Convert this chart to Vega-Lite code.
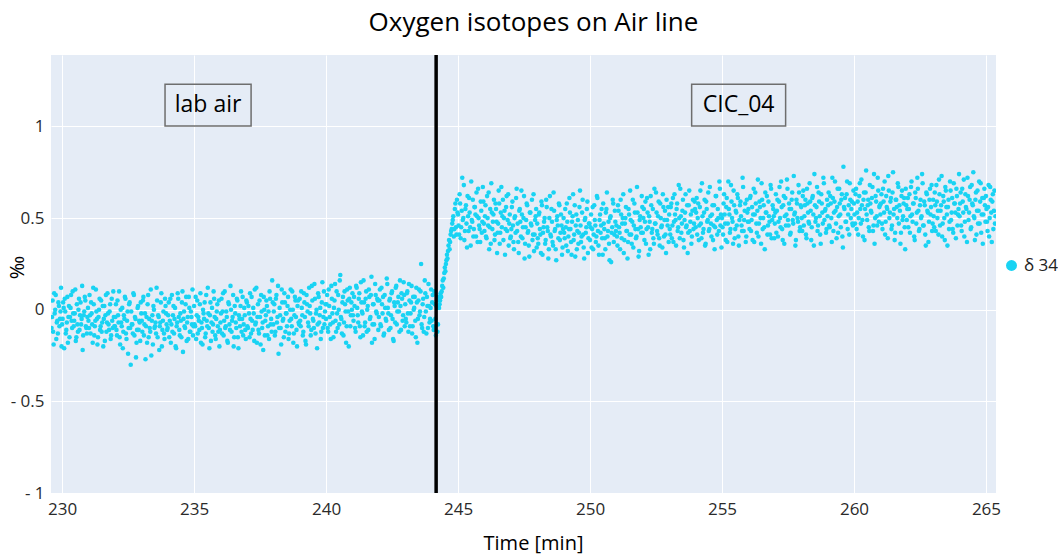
{
"$schema":"https://vega.github.io/schema/vega-lite/v6.json",
"width":945,"height":438,
"autosize":{"type":"none"},
"padding":{"left":51,"top":55,"right":62,"bottom":66},
"background":"white",
"title":{"text":"Oxygen isotopes on Air line","fontSize":26,"font":"Open Sans","fontWeight":"normal","color":"#000","offset":17,"anchor":"middle","frame":"group","dx":10},
"config":{"view":{"fill":"#E5ECF6","stroke":null},"font":"Open Sans"},
"layer":[
{"data":{"values":[
{"t":229.60,"v":-0.10},{"t":229.64,"v":0.05},{"t":229.68,"v":-0.19},{"t":229.72,"v":-0.02},{"t":229.76,"v":0.08},{"t":229.80,"v":-0.07},{"t":229.84,"v":-0.13},{"t":229.88,"v":0.02},{"t":229.92,"v":-0.05},{"t":229.96,"v":0.12},
{"t":230.00,"v":-0.08},{"t":230.04,"v":0.04},{"t":230.08,"v":-0.21},{"t":230.12,"v":-0.01},{"t":230.16,"v":-0.11},{"t":230.20,"v":0.07},{"t":230.24,"v":-0.04},{"t":230.28,"v":-0.15},{"t":230.32,"v":0.01},{"t":230.36,"v":-0.06},{"t":230.40,"v":0.10},{"t":230.44,"v":-0.09},{"t":230.48,"v":-0.02},{"t":230.52,"v":-0.17},{"t":230.56,"v":0.03},{"t":230.60,"v":-0.12},{"t":230.64,"v":0.06},{"t":230.68,"v":-0.03},{"t":230.72,"v":-0.08},{"t":230.76,"v":0.13},{"t":230.80,"v":-0.14},{"t":230.84,"v":-0.01},{"t":230.88,"v":0.05},{"t":230.92,"v":-0.10},{"t":230.96,"v":-0.04},
{"t":231.00,"v":-0.06},{"t":231.04,"v":0.08},{"t":231.08,"v":-0.13},{"t":231.12,"v":-0.02},{"t":231.16,"v":-0.18},{"t":231.20,"v":0.03},{"t":231.24,"v":-0.09},{"t":231.28,"v":0.11},{"t":231.32,"v":-0.05},{"t":231.36,"v":-0.15},{"t":231.40,"v":0.00},{"t":231.44,"v":-0.11},{"t":231.48,"v":0.05},{"t":231.52,"v":-0.07},{"t":231.56,"v":-0.20},{"t":231.60,"v":0.02},{"t":231.64,"v":-0.03},{"t":231.68,"v":-0.12},{"t":231.72,"v":0.09},{"t":231.76,"v":-0.08},{"t":231.80,"v":-0.01},{"t":231.84,"v":-0.16},{"t":231.88,"v":0.06},{"t":231.92,"v":-0.10},{"t":231.96,"v":-0.04},
{"t":232.00,"v":-0.09},{"t":232.04,"v":0.03},{"t":232.08,"v":-0.14},{"t":232.12,"v":-0.03},{"t":232.16,"v":0.10},{"t":232.20,"v":-0.19},{"t":232.24,"v":-0.07},{"t":232.28,"v":0.01},{"t":232.32,"v":-0.12},{"t":232.36,"v":-0.05},{"t":232.40,"v":0.06},{"t":232.44,"v":-0.16},{"t":232.48,"v":-0.01},{"t":232.52,"v":-0.10},{"t":232.56,"v":0.04},{"t":232.60,"v":-0.30},{"t":232.64,"v":-0.08},{"t":232.68,"v":-0.13},{"t":232.72,"v":0.08},{"t":232.76,"v":-0.04},{"t":232.80,"v":-0.26},{"t":232.84,"v":-0.11},{"t":232.88,"v":0.02},{"t":232.92,"v":-0.06},{"t":232.96,"v":-0.17},
{"t":233.00,"v":-0.02},{"t":233.04,"v":-0.12},{"t":233.08,"v":0.07},{"t":233.12,"v":-0.08},{"t":233.16,"v":-0.27},{"t":233.20,"v":-0.04},{"t":233.24,"v":0.03},{"t":233.28,"v":-0.15},{"t":233.32,"v":-0.10},{"t":233.36,"v":0.11},{"t":233.40,"v":-0.06},{"t":233.44,"v":-0.19},{"t":233.48,"v":0.00},{"t":233.52,"v":-0.09},{"t":233.56,"v":-0.13},{"t":233.60,"v":0.05},{"t":233.64,"v":-0.03},{"t":233.68,"v":-0.22},{"t":233.72,"v":-0.07},{"t":233.76,"v":0.09},{"t":233.80,"v":-0.11},{"t":233.84,"v":-0.01},{"t":233.88,"v":-0.16},{"t":233.92,"v":0.02},{"t":233.96,"v":-0.08},
{"t":234.00,"v":-0.10},{"t":234.04,"v":0.04},{"t":234.08,"v":-0.06},{"t":234.12,"v":-0.18},{"t":234.16,"v":0.08},{"t":234.20,"v":-0.03},{"t":234.24,"v":-0.13},{"t":234.28,"v":0.01},{"t":234.32,"v":-0.21},{"t":234.36,"v":-0.07},{"t":234.40,"v":0.06},{"t":234.44,"v":-0.11},{"t":234.48,"v":-0.02},{"t":234.52,"v":-0.15},{"t":234.56,"v":0.10},{"t":234.60,"v":-0.05},{"t":234.64,"v":-0.09},{"t":234.68,"v":0.03},{"t":234.72,"v":-0.17},{"t":234.76,"v":-0.04},{"t":234.80,"v":0.07},{"t":234.84,"v":-0.12},{"t":234.88,"v":-0.01},{"t":234.92,"v":-0.08},{"t":234.96,"v":-0.14},
{"t":235.00,"v":0.02},{"t":235.04,"v":-0.09},{"t":235.08,"v":-0.16},{"t":235.12,"v":0.05},{"t":235.16,"v":-0.04},{"t":235.20,"v":-0.11},{"t":235.24,"v":0.09},{"t":235.28,"v":-0.07},{"t":235.32,"v":-0.19},{"t":235.36,"v":-0.02},{"t":235.40,"v":0.04},{"t":235.44,"v":-0.13},{"t":235.48,"v":-0.06},{"t":235.52,"v":0.12},{"t":235.56,"v":-0.10},{"t":235.60,"v":-0.03},{"t":235.64,"v":-0.17},{"t":235.68,"v":0.01},{"t":235.72,"v":-0.08},{"t":235.76,"v":0.06},{"t":235.80,"v":-0.14},{"t":235.84,"v":-0.05},{"t":235.88,"v":0.03},{"t":235.92,"v":-0.12},{"t":235.96,"v":-0.20},
{"t":236.00,"v":-0.07},{"t":236.04,"v":0.06},{"t":236.08,"v":-0.01},{"t":236.12,"v":-0.14},{"t":236.16,"v":0.10},{"t":236.20,"v":-0.09},{"t":236.24,"v":-0.04},{"t":236.28,"v":-0.18},{"t":236.32,"v":0.03},{"t":236.36,"v":-0.11},{"t":236.40,"v":0.00},{"t":236.44,"v":-0.06},{"t":236.48,"v":0.08},{"t":236.52,"v":-0.15},{"t":236.56,"v":-0.02},{"t":236.60,"v":-0.10},{"t":236.64,"v":0.05},{"t":236.68,"v":-0.21},{"t":236.72,"v":-0.05},{"t":236.76,"v":0.02},{"t":236.80,"v":-0.12},{"t":236.84,"v":0.07},{"t":236.88,"v":-0.08},{"t":236.92,"v":-0.03},{"t":236.96,"v":-0.16},
{"t":237.00,"v":0.04},{"t":237.04,"v":-0.10},{"t":237.08,"v":-0.02},{"t":237.12,"v":0.09},{"t":237.16,"v":-0.13},{"t":237.20,"v":-0.06},{"t":237.24,"v":0.01},{"t":237.28,"v":-0.17},{"t":237.32,"v":-0.08},{"t":237.36,"v":0.12},{"t":237.40,"v":-0.04},{"t":237.44,"v":-0.11},{"t":237.48,"v":0.05},{"t":237.52,"v":-0.19},{"t":237.56,"v":-0.01},{"t":237.60,"v":-0.07},{"t":237.64,"v":0.07},{"t":237.68,"v":-0.14},{"t":237.72,"v":-0.03},{"t":237.76,"v":0.02},{"t":237.80,"v":-0.09},{"t":237.84,"v":-0.16},{"t":237.88,"v":0.06},{"t":237.92,"v":-0.05},{"t":237.96,"v":0.16},
{"t":238.00,"v":-0.08},{"t":238.04,"v":0.03},{"t":238.08,"v":-0.12},{"t":238.12,"v":0.08},{"t":238.16,"v":-0.04},{"t":238.20,"v":-0.24},{"t":238.24,"v":0.01},{"t":238.28,"v":-0.10},{"t":238.32,"v":0.11},{"t":238.36,"v":-0.06},{"t":238.40,"v":-0.15},{"t":238.44,"v":0.04},{"t":238.48,"v":-0.02},{"t":238.52,"v":-0.09},{"t":238.56,"v":0.07},{"t":238.60,"v":-0.13},{"t":238.64,"v":0.00},{"t":238.68,"v":-0.05},{"t":238.72,"v":0.10},{"t":238.76,"v":-0.18},{"t":238.80,"v":-0.03},{"t":238.84,"v":0.05},{"t":238.88,"v":-0.11},{"t":238.92,"v":0.02},{"t":238.96,"v":-0.07},
{"t":239.00,"v":0.06},{"t":239.04,"v":-0.09},{"t":239.08,"v":0.01},{"t":239.12,"v":-0.14},{"t":239.16,"v":0.09},{"t":239.20,"v":-0.04},{"t":239.24,"v":-0.19},{"t":239.28,"v":0.03},{"t":239.32,"v":-0.07},{"t":239.36,"v":0.12},{"t":239.40,"v":-0.02},{"t":239.44,"v":-0.11},{"t":239.48,"v":0.05},{"t":239.52,"v":-0.06},{"t":239.56,"v":0.14},{"t":239.60,"v":-0.13},{"t":239.64,"v":0.00},{"t":239.68,"v":-0.08},{"t":239.72,"v":0.07},{"t":239.76,"v":-0.03},{"t":239.80,"v":-0.16},{"t":239.84,"v":0.04},{"t":239.88,"v":-0.10},{"t":239.92,"v":0.10},{"t":239.96,"v":-0.01},
{"t":240.00,"v":-0.05},{"t":240.04,"v":0.08},{"t":240.08,"v":-0.12},{"t":240.12,"v":0.02},{"t":240.16,"v":-0.08},{"t":240.20,"v":0.13},{"t":240.24,"v":-0.02},{"t":240.28,"v":-0.15},{"t":240.32,"v":0.05},{"t":240.36,"v":-0.06},{"t":240.40,"v":0.10},{"t":240.44,"v":-0.10},{"t":240.48,"v":0.00},{"t":240.52,"v":0.16},{"t":240.56,"v":-0.04},{"t":240.60,"v":-0.13},{"t":240.64,"v":0.07},{"t":240.68,"v":-0.07},{"t":240.72,"v":0.03},{"t":240.76,"v":-0.18},{"t":240.80,"v":0.11},{"t":240.84,"v":-0.01},{"t":240.88,"v":0.06},{"t":240.92,"v":-0.09},{"t":240.96,"v":0.04},
{"t":241.00,"v":0.09},{"t":241.04,"v":-0.06},{"t":241.08,"v":0.02},{"t":241.12,"v":-0.12},{"t":241.16,"v":0.12},{"t":241.20,"v":-0.03},{"t":241.24,"v":0.06},{"t":241.28,"v":-0.09},{"t":241.32,"v":0.15},{"t":241.36,"v":-0.01},{"t":241.40,"v":-0.14},{"t":241.44,"v":0.04},{"t":241.48,"v":-0.07},{"t":241.52,"v":0.10},{"t":241.56,"v":0.00},{"t":241.60,"v":-0.11},{"t":241.64,"v":0.07},{"t":241.68,"v":-0.04},{"t":241.72,"v":0.18},{"t":241.76,"v":-0.08},{"t":241.80,"v":0.03},{"t":241.84,"v":-0.16},{"t":241.88,"v":0.08},{"t":241.92,"v":-0.02},{"t":241.96,"v":0.05},
{"t":242.00,"v":-0.04},{"t":242.04,"v":0.11},{"t":242.08,"v":-0.09},{"t":242.12,"v":0.03},{"t":242.16,"v":0.07},{"t":242.20,"v":-0.13},{"t":242.24,"v":0.01},{"t":242.28,"v":-0.06},{"t":242.32,"v":0.14},{"t":242.36,"v":-0.02},{"t":242.40,"v":0.05},{"t":242.44,"v":-0.10},{"t":242.48,"v":0.09},{"t":242.52,"v":-0.05},{"t":242.56,"v":-0.17},{"t":242.60,"v":0.02},{"t":242.64,"v":0.12},{"t":242.68,"v":-0.08},{"t":242.72,"v":0.04},{"t":242.76,"v":-0.01},{"t":242.80,"v":0.16},{"t":242.84,"v":-0.11},{"t":242.88,"v":0.06},{"t":242.92,"v":-0.03},{"t":242.96,"v":0.08},
{"t":243.00,"v":0.03},{"t":243.04,"v":-0.07},{"t":243.08,"v":0.10},{"t":243.12,"v":-0.12},{"t":243.16,"v":0.05},{"t":243.20,"v":-0.02},{"t":243.24,"v":0.13},{"t":243.28,"v":-0.09},{"t":243.32,"v":0.00},{"t":243.36,"v":0.07},{"t":243.40,"v":-0.15},{"t":243.44,"v":0.04},{"t":243.48,"v":-0.05},{"t":243.52,"v":0.11},{"t":243.56,"v":-0.01},{"t":243.60,"v":0.25},{"t":243.64,"v":-0.10},{"t":243.68,"v":0.06},{"t":243.72,"v":-0.04},{"t":243.76,"v":0.09},{"t":243.80,"v":-0.13},{"t":243.84,"v":0.02},{"t":243.88,"v":0.14},{"t":243.92,"v":-0.07},{"t":243.96,"v":0.01},
{"t":244.00,"v":-0.06},{"t":244.04,"v":0.08},{"t":244.08,"v":-0.11},{"t":244.12,"v":0.03},{"t":244.16,"v":-0.14},{"t":244.20,"v":0.05},{"t":244.24,"v":-0.08},{"t":244.28,"v":0.01},{"t":244.30,"v":0.03},{"t":244.32,"v":0.05},{"t":244.34,"v":0.09},{"t":244.36,"v":0.07},{"t":244.38,"v":0.10},{"t":244.40,"v":0.13},{"t":244.42,"v":0.16},{"t":244.44,"v":0.12},{"t":244.46,"v":0.17},{"t":244.48,"v":0.20},{"t":244.50,"v":0.23},{"t":244.52,"v":0.21},{"t":244.54,"v":0.25},{"t":244.56,"v":0.27},{"t":244.58,"v":0.30},{"t":244.60,"v":0.28},{"t":244.62,"v":0.32},{"t":244.64,"v":0.35},{"t":244.66,"v":0.38},{"t":244.68,"v":0.33},{"t":244.70,"v":0.37},{"t":244.72,"v":0.41},{"t":244.74,"v":0.43},{"t":244.76,"v":0.44},{"t":244.80,"v":0.49},{"t":244.84,"v":0.40},{"t":244.88,"v":0.55},{"t":244.92,"v":0.45},{"t":244.96,"v":0.60},
{"t":245.00,"v":0.52},{"t":245.04,"v":0.41},{"t":245.08,"v":0.58},{"t":245.12,"v":0.45},{"t":245.16,"v":0.72},{"t":245.20,"v":0.50},{"t":245.24,"v":0.38},{"t":245.28,"v":0.55},{"t":245.32,"v":0.47},{"t":245.36,"v":0.62},{"t":245.40,"v":0.43},{"t":245.44,"v":0.53},{"t":245.48,"v":0.35},{"t":245.52,"v":0.49},{"t":245.56,"v":0.60},{"t":245.60,"v":0.44},{"t":245.64,"v":0.56},{"t":245.68,"v":0.40},{"t":245.72,"v":0.51},{"t":245.76,"v":0.66},{"t":245.80,"v":0.46},{"t":245.84,"v":0.37},{"t":245.88,"v":0.54},{"t":245.92,"v":0.48},{"t":245.96,"v":0.59},
{"t":246.00,"v":0.43},{"t":246.04,"v":0.57},{"t":246.08,"v":0.39},{"t":246.12,"v":0.50},{"t":246.16,"v":0.64},{"t":246.20,"v":0.45},{"t":246.24,"v":0.36},{"t":246.28,"v":0.53},{"t":246.32,"v":0.48},{"t":246.36,"v":0.60},{"t":246.40,"v":0.41},{"t":246.44,"v":0.55},{"t":246.48,"v":0.31},{"t":246.52,"v":0.47},{"t":246.56,"v":0.58},{"t":246.60,"v":0.42},{"t":246.64,"v":0.67},{"t":246.68,"v":0.51},{"t":246.72,"v":0.38},{"t":246.76,"v":0.54},{"t":246.80,"v":0.44},{"t":246.84,"v":0.62},{"t":246.88,"v":0.49},{"t":246.92,"v":0.35},{"t":246.96,"v":0.52},
{"t":247.00,"v":0.40},{"t":247.04,"v":0.56},{"t":247.08,"v":0.46},{"t":247.12,"v":0.33},{"t":247.16,"v":0.51},{"t":247.20,"v":0.61},{"t":247.24,"v":0.43},{"t":247.28,"v":0.37},{"t":247.32,"v":0.54},{"t":247.36,"v":0.48},{"t":247.40,"v":0.65},{"t":247.44,"v":0.39},{"t":247.48,"v":0.50},{"t":247.52,"v":0.28},{"t":247.56,"v":0.45},{"t":247.60,"v":0.58},{"t":247.64,"v":0.42},{"t":247.68,"v":0.35},{"t":247.72,"v":0.53},{"t":247.76,"v":0.47},{"t":247.80,"v":0.60},{"t":247.84,"v":0.41},{"t":247.88,"v":0.32},{"t":247.92,"v":0.49},{"t":247.96,"v":0.55},
{"t":248.00,"v":0.47},{"t":248.04,"v":0.36},{"t":248.08,"v":0.53},{"t":248.12,"v":0.41},{"t":248.16,"v":0.59},{"t":248.20,"v":0.30},{"t":248.24,"v":0.45},{"t":248.28,"v":0.50},{"t":248.32,"v":0.38},{"t":248.36,"v":0.56},{"t":248.40,"v":0.43},{"t":248.44,"v":0.33},{"t":248.48,"v":0.62},{"t":248.52,"v":0.40},{"t":248.56,"v":0.48},{"t":248.60,"v":0.35},{"t":248.64,"v":0.54},{"t":248.68,"v":0.44},{"t":248.72,"v":0.27},{"t":248.76,"v":0.51},{"t":248.80,"v":0.39},{"t":248.84,"v":0.57},{"t":248.88,"v":0.42},{"t":248.92,"v":0.46},{"t":248.96,"v":0.34},
{"t":249.00,"v":0.50},{"t":249.04,"v":0.39},{"t":249.08,"v":0.45},{"t":249.12,"v":0.58},{"t":249.16,"v":0.32},{"t":249.20,"v":0.44},{"t":249.24,"v":0.53},{"t":249.28,"v":0.37},{"t":249.32,"v":0.48},{"t":249.36,"v":0.63},{"t":249.40,"v":0.41},{"t":249.44,"v":0.29},{"t":249.48,"v":0.52},{"t":249.52,"v":0.43},{"t":249.56,"v":0.36},{"t":249.60,"v":0.56},{"t":249.64,"v":0.46},{"t":249.68,"v":0.40},{"t":249.72,"v":0.60},{"t":249.76,"v":0.34},{"t":249.80,"v":0.49},{"t":249.84,"v":0.42},{"t":249.88,"v":0.55},{"t":249.92,"v":0.31},{"t":249.96,"v":0.47},
{"t":250.00,"v":0.38},{"t":250.04,"v":0.52},{"t":250.08,"v":0.44},{"t":250.12,"v":0.33},{"t":250.16,"v":0.57},{"t":250.20,"v":0.46},{"t":250.24,"v":0.40},{"t":250.28,"v":0.61},{"t":250.32,"v":0.35},{"t":250.36,"v":0.49},{"t":250.40,"v":0.42},{"t":250.44,"v":0.55},{"t":250.48,"v":0.30},{"t":250.52,"v":0.47},{"t":250.56,"v":0.39},{"t":250.60,"v":0.53},{"t":250.64,"v":0.64},{"t":250.68,"v":0.43},{"t":250.72,"v":0.36},{"t":250.76,"v":0.50},{"t":250.80,"v":0.26},{"t":250.84,"v":0.45},{"t":250.88,"v":0.58},{"t":250.92,"v":0.41},{"t":250.96,"v":0.48},
{"t":251.00,"v":0.46},{"t":251.04,"v":0.35},{"t":251.08,"v":0.54},{"t":251.12,"v":0.42},{"t":251.16,"v":0.60},{"t":251.20,"v":0.39},{"t":251.24,"v":0.50},{"t":251.28,"v":0.31},{"t":251.32,"v":0.47},{"t":251.36,"v":0.56},{"t":251.40,"v":0.43},{"t":251.44,"v":0.37},{"t":251.48,"v":0.52},{"t":251.52,"v":0.65},{"t":251.56,"v":0.41},{"t":251.60,"v":0.48},{"t":251.64,"v":0.34},{"t":251.68,"v":0.58},{"t":251.72,"v":0.44},{"t":251.76,"v":0.40},{"t":251.80,"v":0.53},{"t":251.84,"v":0.29},{"t":251.88,"v":0.49},{"t":251.92,"v":0.45},{"t":251.96,"v":0.62},
{"t":252.00,"v":0.42},{"t":252.04,"v":0.55},{"t":252.08,"v":0.48},{"t":252.12,"v":0.36},{"t":252.16,"v":0.61},{"t":252.20,"v":0.45},{"t":252.24,"v":0.51},{"t":252.28,"v":0.33},{"t":252.32,"v":0.57},{"t":252.36,"v":0.44},{"t":252.40,"v":0.39},{"t":252.44,"v":0.66},{"t":252.48,"v":0.47},{"t":252.52,"v":0.53},{"t":252.56,"v":0.41},{"t":252.60,"v":0.59},{"t":252.64,"v":0.35},{"t":252.68,"v":0.50},{"t":252.72,"v":0.46},{"t":252.76,"v":0.63},{"t":252.80,"v":0.40},{"t":252.84,"v":0.54},{"t":252.88,"v":0.31},{"t":252.92,"v":0.49},{"t":252.96,"v":0.56},
{"t":253.00,"v":0.52},{"t":253.04,"v":0.41},{"t":253.08,"v":0.58},{"t":253.12,"v":0.46},{"t":253.16,"v":0.37},{"t":253.20,"v":0.63},{"t":253.24,"v":0.49},{"t":253.28,"v":0.55},{"t":253.32,"v":0.43},{"t":253.36,"v":0.68},{"t":253.40,"v":0.39},{"t":253.44,"v":0.51},{"t":253.48,"v":0.47},{"t":253.52,"v":0.60},{"t":253.56,"v":0.34},{"t":253.60,"v":0.53},{"t":253.64,"v":0.45},{"t":253.68,"v":0.57},{"t":253.72,"v":0.42},{"t":253.76,"v":0.65},{"t":253.80,"v":0.48},{"t":253.84,"v":0.36},{"t":253.88,"v":0.54},{"t":253.92,"v":0.44},{"t":253.96,"v":0.59},
{"t":254.00,"v":0.45},{"t":254.04,"v":0.61},{"t":254.08,"v":0.50},{"t":254.12,"v":0.38},{"t":254.16,"v":0.56},{"t":254.20,"v":0.47},{"t":254.24,"v":0.69},{"t":254.28,"v":0.42},{"t":254.32,"v":0.53},{"t":254.36,"v":0.35},{"t":254.40,"v":0.59},{"t":254.44,"v":0.48},{"t":254.48,"v":0.64},{"t":254.52,"v":0.44},{"t":254.56,"v":0.51},{"t":254.60,"v":0.40},{"t":254.64,"v":0.57},{"t":254.68,"v":0.46},{"t":254.72,"v":0.33},{"t":254.76,"v":0.62},{"t":254.80,"v":0.49},{"t":254.84,"v":0.55},{"t":254.88,"v":0.43},{"t":254.92,"v":0.66},{"t":254.96,"v":0.52},
{"t":255.00,"v":0.50},{"t":255.04,"v":0.41},{"t":255.08,"v":0.63},{"t":255.12,"v":0.47},{"t":255.16,"v":0.56},{"t":255.20,"v":0.37},{"t":255.24,"v":0.70},{"t":255.28,"v":0.52},{"t":255.32,"v":0.44},{"t":255.36,"v":0.59},{"t":255.40,"v":0.48},{"t":255.44,"v":0.65},{"t":255.48,"v":0.39},{"t":255.52,"v":0.54},{"t":255.56,"v":0.46},{"t":255.60,"v":0.61},{"t":255.64,"v":0.35},{"t":255.68,"v":0.57},{"t":255.72,"v":0.51},{"t":255.76,"v":0.43},{"t":255.80,"v":0.67},{"t":255.84,"v":0.49},{"t":255.88,"v":0.58},{"t":255.92,"v":0.40},{"t":255.96,"v":0.53},
{"t":256.00,"v":0.55},{"t":256.04,"v":0.44},{"t":256.08,"v":0.62},{"t":256.12,"v":0.49},{"t":256.16,"v":0.38},{"t":256.20,"v":0.66},{"t":256.24,"v":0.52},{"t":256.28,"v":0.58},{"t":256.32,"v":0.42},{"t":256.36,"v":0.71},{"t":256.40,"v":0.47},{"t":256.44,"v":0.56},{"t":256.48,"v":0.36},{"t":256.52,"v":0.60},{"t":256.56,"v":0.50},{"t":256.60,"v":0.45},{"t":256.64,"v":0.64},{"t":256.68,"v":0.53},{"t":256.72,"v":0.41},{"t":256.76,"v":0.59},{"t":256.80,"v":0.48},{"t":256.84,"v":0.68},{"t":256.88,"v":0.39},{"t":256.92,"v":0.57},{"t":256.96,"v":0.51},
{"t":257.00,"v":0.47},{"t":257.04,"v":0.63},{"t":257.08,"v":0.54},{"t":257.12,"v":0.40},{"t":257.16,"v":0.59},{"t":257.20,"v":0.50},{"t":257.24,"v":0.70},{"t":257.28,"v":0.44},{"t":257.32,"v":0.57},{"t":257.36,"v":0.36},{"t":257.40,"v":0.61},{"t":257.44,"v":0.52},{"t":257.48,"v":0.66},{"t":257.52,"v":0.46},{"t":257.56,"v":0.55},{"t":257.60,"v":0.42},{"t":257.64,"v":0.60},{"t":257.68,"v":0.49},{"t":257.72,"v":0.73},{"t":257.76,"v":0.53},{"t":257.80,"v":0.38},{"t":257.84,"v":0.58},{"t":257.88,"v":0.48},{"t":257.92,"v":0.64},{"t":257.96,"v":0.45},
{"t":258.00,"v":0.56},{"t":258.04,"v":0.43},{"t":258.08,"v":0.65},{"t":258.12,"v":0.51},{"t":258.16,"v":0.60},{"t":258.20,"v":0.39},{"t":258.24,"v":0.58},{"t":258.28,"v":0.48},{"t":258.32,"v":0.69},{"t":258.36,"v":0.54},{"t":258.40,"v":0.45},{"t":258.44,"v":0.62},{"t":258.48,"v":0.35},{"t":258.52,"v":0.57},{"t":258.56,"v":0.50},{"t":258.60,"v":0.67},{"t":258.64,"v":0.46},{"t":258.68,"v":0.59},{"t":258.72,"v":0.41},{"t":258.76,"v":0.63},{"t":258.80,"v":0.53},{"t":258.84,"v":0.72},{"t":258.88,"v":0.49},{"t":258.92,"v":0.55},{"t":258.96,"v":0.44},
{"t":259.00,"v":0.51},{"t":259.04,"v":0.64},{"t":259.08,"v":0.45},{"t":259.12,"v":0.58},{"t":259.16,"v":0.37},{"t":259.20,"v":0.61},{"t":259.24,"v":0.53},{"t":259.28,"v":0.70},{"t":259.32,"v":0.47},{"t":259.36,"v":0.56},{"t":259.40,"v":0.42},{"t":259.44,"v":0.66},{"t":259.48,"v":0.52},{"t":259.52,"v":0.60},{"t":259.56,"v":0.40},{"t":259.60,"v":0.78},{"t":259.64,"v":0.55},{"t":259.68,"v":0.48},{"t":259.72,"v":0.63},{"t":259.76,"v":0.44},{"t":259.80,"v":0.57},{"t":259.84,"v":0.69},{"t":259.88,"v":0.50},{"t":259.92,"v":0.59},{"t":259.96,"v":0.46},
{"t":260.00,"v":0.58},{"t":260.04,"v":0.47},{"t":260.08,"v":0.66},{"t":260.12,"v":0.53},{"t":260.16,"v":0.41},{"t":260.20,"v":0.62},{"t":260.24,"v":0.55},{"t":260.28,"v":0.71},{"t":260.32,"v":0.49},{"t":260.36,"v":0.60},{"t":260.40,"v":0.38},{"t":260.44,"v":0.64},{"t":260.48,"v":0.52},{"t":260.52,"v":0.57},{"t":260.56,"v":0.45},{"t":260.60,"v":0.68},{"t":260.64,"v":0.54},{"t":260.68,"v":0.61},{"t":260.72,"v":0.43},{"t":260.76,"v":0.74},{"t":260.80,"v":0.50},{"t":260.84,"v":0.59},{"t":260.88,"v":0.46},{"t":260.92,"v":0.65},{"t":260.96,"v":0.56},
{"t":261.00,"v":0.52},{"t":261.04,"v":0.63},{"t":261.08,"v":0.44},{"t":261.12,"v":0.59},{"t":261.16,"v":0.70},{"t":261.20,"v":0.48},{"t":261.24,"v":0.56},{"t":261.28,"v":0.39},{"t":261.32,"v":0.65},{"t":261.36,"v":0.53},{"t":261.40,"v":0.61},{"t":261.44,"v":0.46},{"t":261.48,"v":0.75},{"t":261.52,"v":0.55},{"t":261.56,"v":0.42},{"t":261.60,"v":0.60},{"t":261.64,"v":0.50},{"t":261.68,"v":0.67},{"t":261.72,"v":0.57},{"t":261.76,"v":0.36},{"t":261.80,"v":0.62},{"t":261.84,"v":0.49},{"t":261.88,"v":0.58},{"t":261.92,"v":0.45},{"t":261.96,"v":0.66},
{"t":262.00,"v":0.49},{"t":262.04,"v":0.61},{"t":262.08,"v":0.55},{"t":262.12,"v":0.42},{"t":262.16,"v":0.67},{"t":262.20,"v":0.52},{"t":262.24,"v":0.58},{"t":262.28,"v":0.40},{"t":262.32,"v":0.64},{"t":262.36,"v":0.47},{"t":262.40,"v":0.72},{"t":262.44,"v":0.54},{"t":262.48,"v":0.44},{"t":262.52,"v":0.60},{"t":262.56,"v":0.51},{"t":262.60,"v":0.69},{"t":262.64,"v":0.46},{"t":262.68,"v":0.57},{"t":262.72,"v":0.35},{"t":262.76,"v":0.63},{"t":262.80,"v":0.53},{"t":262.84,"v":0.48},{"t":262.88,"v":0.66},{"t":262.92,"v":0.56},{"t":262.96,"v":0.43},
{"t":263.00,"v":0.60},{"t":263.04,"v":0.45},{"t":263.08,"v":0.57},{"t":263.12,"v":0.68},{"t":263.16,"v":0.50},{"t":263.20,"v":0.41},{"t":263.24,"v":0.63},{"t":263.28,"v":0.54},{"t":263.32,"v":0.73},{"t":263.36,"v":0.47},{"t":263.40,"v":0.59},{"t":263.44,"v":0.38},{"t":263.48,"v":0.65},{"t":263.52,"v":0.52},{"t":263.56,"v":0.56},{"t":263.60,"v":0.44},{"t":263.64,"v":0.70},{"t":263.68,"v":0.49},{"t":263.72,"v":0.61},{"t":263.76,"v":0.42},{"t":263.80,"v":0.58},{"t":263.84,"v":0.53},{"t":263.88,"v":0.66},{"t":263.92,"v":0.46},{"t":263.96,"v":0.55},
{"t":264.00,"v":0.51},{"t":264.04,"v":0.64},{"t":264.08,"v":0.43},{"t":264.12,"v":0.59},{"t":264.16,"v":0.71},{"t":264.20,"v":0.48},{"t":264.24,"v":0.56},{"t":264.28,"v":0.37},{"t":264.32,"v":0.62},{"t":264.36,"v":0.53},{"t":264.40,"v":0.67},{"t":264.44,"v":0.45},{"t":264.48,"v":0.58},{"t":264.52,"v":0.75},{"t":264.56,"v":0.50},{"t":264.60,"v":0.60},{"t":264.64,"v":0.41},{"t":264.68,"v":0.65},{"t":264.72,"v":0.54},{"t":264.76,"v":0.47},{"t":264.80,"v":0.69},{"t":264.84,"v":0.52},{"t":264.88,"v":0.36},{"t":264.92,"v":0.61},{"t":264.96,"v":0.57},
{"t":265.00,"v":0.62},{"t":265.04,"v":0.48},{"t":265.08,"v":0.56},{"t":265.12,"v":0.40},{"t":265.16,"v":0.67},{"t":265.20,"v":0.53},{"t":265.24,"v":0.59},{"t":265.28,"v":0.44},{"t":265.32,"v":0.65},{"t":265.36,"v":0.51},
{"t":229.62,"v":-0.04},{"t":229.66,"v":-0.12},{"t":229.70,"v":0.09},{"t":229.74,"v":0.00},{"t":229.78,"v":-0.16},{"t":229.82,"v":-0.06},{"t":229.86,"v":0.04},{"t":229.90,"v":-0.09},{"t":229.94,"v":-0.01},{"t":229.98,"v":-0.20},
{"t":230.02,"v":-0.05},{"t":230.06,"v":0.01},{"t":230.10,"v":0.06},{"t":230.14,"v":-0.13},{"t":230.18,"v":-0.07},{"t":230.22,"v":-0.18},{"t":230.26,"v":0.02},{"t":230.30,"v":-0.04},{"t":230.34,"v":0.08},{"t":230.38,"v":-0.10},{"t":230.42,"v":-0.02},{"t":230.46,"v":-0.06},{"t":230.50,"v":0.11},{"t":230.54,"v":-0.15},{"t":230.58,"v":-0.08},{"t":230.62,"v":0.00},{"t":230.66,"v":-0.11},{"t":230.70,"v":0.04},{"t":230.74,"v":-0.05},{"t":230.78,"v":-0.22},{"t":230.82,"v":-0.03},{"t":230.86,"v":0.07},{"t":230.90,"v":-0.09},{"t":230.94,"v":-0.13},{"t":230.98,"v":0.01},
{"t":231.02,"v":-0.10},{"t":231.06,"v":-0.03},{"t":231.10,"v":0.04},{"t":231.14,"v":-0.08},{"t":231.18,"v":0.12},{"t":231.22,"v":-0.14},{"t":231.26,"v":-0.06},{"t":231.30,"v":-0.01},{"t":231.34,"v":-0.19},{"t":231.38,"v":-0.04},{"t":231.42,"v":0.06},{"t":231.46,"v":-0.09},{"t":231.50,"v":-0.12},{"t":231.54,"v":0.02},{"t":231.58,"v":-0.05},{"t":231.62,"v":-0.17},{"t":231.66,"v":0.08},{"t":231.70,"v":-0.07},{"t":231.74,"v":-0.02},{"t":231.78,"v":-0.11},{"t":231.82,"v":0.03},{"t":231.86,"v":-0.14},{"t":231.90,"v":-0.06},{"t":231.94,"v":0.10},{"t":231.98,"v":-0.09},
{"t":232.02,"v":-0.04},{"t":232.06,"v":-0.11},{"t":232.10,"v":0.05},{"t":232.14,"v":-0.07},{"t":232.18,"v":-0.15},{"t":232.22,"v":0.00},{"t":232.26,"v":-0.09},{"t":232.30,"v":-0.21},{"t":232.34,"v":-0.03},{"t":232.38,"v":0.07},{"t":232.42,"v":-0.13},{"t":232.46,"v":-0.06},{"t":232.50,"v":-0.24},{"t":232.54,"v":0.03},{"t":232.58,"v":-0.10},{"t":232.62,"v":-0.01},{"t":232.66,"v":-0.08},{"t":232.70,"v":0.09},{"t":232.74,"v":-0.14},{"t":232.78,"v":-0.05},{"t":232.82,"v":-0.18},{"t":232.86,"v":0.01},{"t":232.90,"v":-0.11},{"t":232.94,"v":-0.07},{"t":232.98,"v":0.04},
{"t":233.02,"v":-0.06},{"t":233.06,"v":0.05},{"t":233.10,"v":-0.14},{"t":233.14,"v":-0.02},{"t":233.18,"v":-0.09},{"t":233.22,"v":-0.18},{"t":233.26,"v":0.08},{"t":233.30,"v":-0.05},{"t":233.34,"v":-0.12},{"t":233.38,"v":-0.25},{"t":233.42,"v":-0.03},{"t":233.46,"v":0.02},{"t":233.50,"v":-0.10},{"t":233.54,"v":-0.07},{"t":233.58,"v":0.12},{"t":233.62,"v":-0.15},{"t":233.66,"v":-0.04},{"t":233.70,"v":-0.09},{"t":233.74,"v":0.04},{"t":233.78,"v":-0.20},{"t":233.82,"v":-0.06},{"t":233.86,"v":-0.13},{"t":233.90,"v":0.06},{"t":233.94,"v":-0.02},{"t":233.98,"v":-0.11},
{"t":234.02,"v":-0.03},{"t":234.06,"v":-0.15},{"t":234.10,"v":0.06},{"t":234.14,"v":-0.08},{"t":234.18,"v":-0.12},{"t":234.22,"v":0.02},{"t":234.26,"v":-0.05},{"t":234.30,"v":-0.20},{"t":234.34,"v":-0.09},{"t":234.38,"v":0.09},{"t":234.42,"v":-0.04},{"t":234.46,"v":-0.14},{"t":234.50,"v":-0.06},{"t":234.54,"v":0.04},{"t":234.58,"v":-0.23},{"t":234.62,"v":-0.01},{"t":234.66,"v":-0.10},{"t":234.70,"v":0.07},{"t":234.74,"v":-0.07},{"t":234.78,"v":-0.16},{"t":234.82,"v":0.01},{"t":234.86,"v":-0.12},{"t":234.90,"v":-0.04},{"t":234.94,"v":0.11},{"t":234.98,"v":-0.09},
{"t":235.02,"v":-0.08},{"t":235.06,"v":0.07},{"t":235.10,"v":-0.03},{"t":235.14,"v":-0.13},{"t":235.18,"v":-0.06},{"t":235.22,"v":0.03},{"t":235.26,"v":-0.18},{"t":235.30,"v":-0.10},{"t":235.34,"v":0.00},{"t":235.38,"v":-0.05},{"t":235.42,"v":-0.15},{"t":235.46,"v":0.08},{"t":235.50,"v":-0.09},{"t":235.54,"v":-0.02},{"t":235.58,"v":-0.21},{"t":235.62,"v":0.04},{"t":235.66,"v":-0.07},{"t":235.70,"v":-0.12},{"t":235.74,"v":0.10},{"t":235.78,"v":-0.04},{"t":235.82,"v":-0.16},{"t":235.86,"v":-0.01},{"t":235.90,"v":-0.09},{"t":235.94,"v":0.05},{"t":235.98,"v":-0.11},
{"t":236.02,"v":-0.02},{"t":236.06,"v":-0.13},{"t":236.10,"v":0.09},{"t":236.14,"v":-0.06},{"t":236.18,"v":-0.10},{"t":236.22,"v":-0.01},{"t":236.26,"v":-0.17},{"t":236.30,"v":0.04},{"t":236.34,"v":-0.08},{"t":236.38,"v":0.13},{"t":236.42,"v":-0.12},{"t":236.46,"v":-0.04},{"t":236.50,"v":-0.20},{"t":236.54,"v":0.02},{"t":236.58,"v":-0.07},{"t":236.62,"v":0.06},{"t":236.66,"v":-0.15},{"t":236.70,"v":-0.03},{"t":236.74,"v":-0.09},{"t":236.78,"v":0.10},{"t":236.82,"v":-0.05},{"t":236.86,"v":-0.14},{"t":236.90,"v":0.01},{"t":236.94,"v":-0.11},{"t":236.98,"v":0.05},
{"t":237.02,"v":-0.09},{"t":237.06,"v":0.02},{"t":237.10,"v":-0.15},{"t":237.14,"v":-0.05},{"t":237.18,"v":0.07},{"t":237.22,"v":-0.11},{"t":237.26,"v":-0.02},{"t":237.30,"v":0.11},{"t":237.34,"v":-0.07},{"t":237.38,"v":-0.18},{"t":237.42,"v":0.03},{"t":237.46,"v":-0.13},{"t":237.50,"v":-0.04},{"t":237.54,"v":0.08},{"t":237.58,"v":-0.10},{"t":237.62,"v":-0.22},{"t":237.66,"v":0.00},{"t":237.70,"v":-0.06},{"t":237.74,"v":0.05},{"t":237.78,"v":-0.14},{"t":237.82,"v":-0.01},{"t":237.86,"v":0.10},{"t":237.90,"v":-0.08},{"t":237.94,"v":-0.12},{"t":237.98,"v":0.04},
{"t":238.02,"v":-0.01},{"t":238.06,"v":-0.14},{"t":238.10,"v":0.06},{"t":238.14,"v":-0.07},{"t":238.18,"v":0.13},{"t":238.22,"v":-0.10},{"t":238.26,"v":-0.03},{"t":238.30,"v":-0.19},{"t":238.34,"v":0.04},{"t":238.38,"v":-0.05},{"t":238.42,"v":0.09},{"t":238.46,"v":-0.12},{"t":238.50,"v":-0.02},{"t":238.54,"v":0.02},{"t":238.58,"v":-0.16},{"t":238.62,"v":-0.06},{"t":238.66,"v":0.11},{"t":238.70,"v":-0.09},{"t":238.74,"v":0.00},{"t":238.78,"v":-0.13},{"t":238.82,"v":0.07},{"t":238.86,"v":-0.04},{"t":238.90,"v":-0.20},{"t":238.94,"v":0.05},{"t":238.98,"v":-0.08},
{"t":239.02,"v":-0.06},{"t":239.06,"v":0.10},{"t":239.10,"v":-0.03},{"t":239.14,"v":-0.12},{"t":239.18,"v":0.04},{"t":239.22,"v":-0.17},{"t":239.26,"v":0.08},{"t":239.30,"v":-0.01},{"t":239.34,"v":-0.09},{"t":239.38,"v":0.02},{"t":239.42,"v":-0.14},{"t":239.46,"v":0.13},{"t":239.50,"v":-0.05},{"t":239.54,"v":-0.10},{"t":239.58,"v":0.06},{"t":239.62,"v":-0.02},{"t":239.66,"v":-0.21},{"t":239.70,"v":0.09},{"t":239.74,"v":-0.07},{"t":239.78,"v":0.01},{"t":239.82,"v":-0.12},{"t":239.86,"v":0.15},{"t":239.90,"v":-0.04},{"t":239.94,"v":-0.08},{"t":239.98,"v":0.03},
{"t":240.02,"v":0.03},{"t":240.06,"v":-0.10},{"t":240.10,"v":0.11},{"t":240.14,"v":-0.04},{"t":240.18,"v":-0.16},{"t":240.22,"v":0.06},{"t":240.26,"v":-0.07},{"t":240.30,"v":0.01},{"t":240.34,"v":0.14},{"t":240.38,"v":-0.12},{"t":240.42,"v":-0.02},{"t":240.46,"v":0.08},{"t":240.50,"v":-0.08},{"t":240.54,"v":0.19},{"t":240.58,"v":-0.05},{"t":240.62,"v":0.04},{"t":240.66,"v":-0.14},{"t":240.70,"v":0.10},{"t":240.74,"v":-0.01},{"t":240.78,"v":-0.09},{"t":240.82,"v":0.05},{"t":240.86,"v":-0.20},{"t":240.90,"v":0.12},{"t":240.94,"v":-0.03},{"t":240.98,"v":0.00},
{"t":241.02,"v":-0.03},{"t":241.06,"v":0.07},{"t":241.10,"v":-0.10},{"t":241.14,"v":0.13},{"t":241.18,"v":0.01},{"t":241.22,"v":-0.07},{"t":241.26,"v":0.09},{"t":241.30,"v":-0.15},{"t":241.34,"v":0.04},{"t":241.38,"v":-0.02},{"t":241.42,"v":0.16},{"t":241.46,"v":-0.09},{"t":241.50,"v":0.06},{"t":241.54,"v":-0.12},{"t":241.58,"v":0.02},{"t":241.62,"v":0.11},{"t":241.66,"v":-0.05},{"t":241.70,"v":0.08},{"t":241.74,"v":-0.18},{"t":241.78,"v":0.03},{"t":241.82,"v":-0.08},{"t":241.86,"v":0.14},{"t":241.90,"v":-0.01},{"t":241.94,"v":0.06},{"t":241.98,"v":-0.11},
{"t":242.02,"v":0.05},{"t":242.06,"v":-0.08},{"t":242.10,"v":0.12},{"t":242.14,"v":-0.02},{"t":242.18,"v":-0.14},{"t":242.22,"v":0.08},{"t":242.26,"v":-0.05},{"t":242.30,"v":0.17},{"t":242.34,"v":0.01},{"t":242.38,"v":-0.11},{"t":242.42,"v":0.06},{"t":242.46,"v":-0.03},{"t":242.50,"v":0.10},{"t":242.54,"v":-0.16},{"t":242.58,"v":0.04},{"t":242.62,"v":-0.07},{"t":242.66,"v":0.13},{"t":242.70,"v":-0.01},{"t":242.74,"v":0.07},{"t":242.78,"v":-0.12},{"t":242.82,"v":0.02},{"t":242.86,"v":0.09},{"t":242.90,"v":-0.06},{"t":242.94,"v":0.15},{"t":242.98,"v":-0.09},
{"t":243.02,"v":-0.05},{"t":243.06,"v":0.09},{"t":243.10,"v":-0.02},{"t":243.14,"v":0.14},{"t":243.18,"v":-0.09},{"t":243.22,"v":0.04},{"t":243.26,"v":-0.13},{"t":243.30,"v":0.07},{"t":243.34,"v":0.01},{"t":243.38,"v":-0.06},{"t":243.42,"v":0.12},{"t":243.46,"v":-0.18},{"t":243.50,"v":0.05},{"t":243.54,"v":-0.03},{"t":243.58,"v":0.10},{"t":243.62,"v":-0.08},{"t":243.66,"v":0.03},{"t":243.70,"v":-0.12},{"t":243.74,"v":0.16},{"t":243.78,"v":-0.01},{"t":243.82,"v":0.07},{"t":243.86,"v":-0.10},{"t":243.90,"v":0.02},{"t":243.94,"v":-0.05},{"t":243.98,"v":0.11},
{"t":244.02,"v":0.04},{"t":244.06,"v":-0.09},{"t":244.10,"v":0.10},{"t":244.14,"v":-0.05},{"t":244.18,"v":0.02},{"t":244.22,"v":-0.12},{"t":244.26,"v":0.07},{"t":244.78,"v":0.47},{"t":244.82,"v":0.51},{"t":244.86,"v":0.44},{"t":244.90,"v":0.58},{"t":244.94,"v":0.41},{"t":244.98,"v":0.53},
{"t":245.02,"v":0.46},{"t":245.06,"v":0.63},{"t":245.10,"v":0.39},{"t":245.14,"v":0.54},{"t":245.18,"v":0.49},{"t":245.22,"v":0.68},{"t":245.26,"v":0.43},{"t":245.30,"v":0.57},{"t":245.34,"v":0.34},{"t":245.38,"v":0.51},{"t":245.42,"v":0.61},{"t":245.46,"v":0.45},{"t":245.50,"v":0.70},{"t":245.54,"v":0.48},{"t":245.58,"v":0.40},{"t":245.62,"v":0.56},{"t":245.66,"v":0.52},{"t":245.70,"v":0.64},{"t":245.74,"v":0.37},{"t":245.78,"v":0.50},{"t":245.82,"v":0.44},{"t":245.86,"v":0.59},{"t":245.90,"v":0.42},{"t":245.94,"v":0.67},{"t":245.98,"v":0.47},
{"t":246.02,"v":0.51},{"t":246.06,"v":0.40},{"t":246.10,"v":0.62},{"t":246.14,"v":0.46},{"t":246.18,"v":0.33},{"t":246.22,"v":0.55},{"t":246.26,"v":0.69},{"t":246.30,"v":0.44},{"t":246.34,"v":0.52},{"t":246.38,"v":0.38},{"t":246.42,"v":0.58},{"t":246.46,"v":0.48},{"t":246.50,"v":0.42},{"t":246.54,"v":0.65},{"t":246.58,"v":0.36},{"t":246.62,"v":0.53},{"t":246.66,"v":0.45},{"t":246.70,"v":0.60},{"t":246.74,"v":0.50},{"t":246.78,"v":0.30},{"t":246.82,"v":0.56},{"t":246.86,"v":0.43},{"t":246.90,"v":0.63},{"t":246.94,"v":0.47},{"t":246.98,"v":0.39},
{"t":247.02,"v":0.44},{"t":247.06,"v":0.59},{"t":247.10,"v":0.37},{"t":247.14,"v":0.50},{"t":247.18,"v":0.42},{"t":247.22,"v":0.66},{"t":247.26,"v":0.47},{"t":247.30,"v":0.31},{"t":247.34,"v":0.55},{"t":247.38,"v":0.40},{"t":247.42,"v":0.52},{"t":247.46,"v":0.45},{"t":247.50,"v":0.62},{"t":247.54,"v":0.36},{"t":247.58,"v":0.49},{"t":247.62,"v":0.57},{"t":247.66,"v":0.43},{"t":247.70,"v":0.29},{"t":247.74,"v":0.53},{"t":247.78,"v":0.46},{"t":247.82,"v":0.38},{"t":247.86,"v":0.63},{"t":247.90,"v":0.41},{"t":247.94,"v":0.51},{"t":247.98,"v":0.34},
{"t":248.02,"v":0.39},{"t":248.06,"v":0.52},{"t":248.10,"v":0.44},{"t":248.14,"v":0.31},{"t":248.18,"v":0.57},{"t":248.22,"v":0.42},{"t":248.26,"v":0.48},{"t":248.30,"v":0.36},{"t":248.34,"v":0.60},{"t":248.38,"v":0.45},{"t":248.42,"v":0.28},{"t":248.46,"v":0.50},{"t":248.50,"v":0.41},{"t":248.54,"v":0.55},{"t":248.58,"v":0.37},{"t":248.62,"v":0.64},{"t":248.66,"v":0.43},{"t":248.70,"v":0.33},{"t":248.74,"v":0.49},{"t":248.78,"v":0.46},{"t":248.82,"v":0.58},{"t":248.86,"v":0.38},{"t":248.90,"v":0.52},{"t":248.94,"v":0.30},{"t":248.98,"v":0.44},
{"t":249.02,"v":0.42},{"t":249.06,"v":0.55},{"t":249.10,"v":0.35},{"t":249.14,"v":0.48},{"t":249.18,"v":0.40},{"t":249.22,"v":0.61},{"t":249.26,"v":0.44},{"t":249.30,"v":0.30},{"t":249.34,"v":0.51},{"t":249.38,"v":0.38},{"t":249.42,"v":0.57},{"t":249.46,"v":0.46},{"t":249.50,"v":0.33},{"t":249.54,"v":0.49},{"t":249.58,"v":0.42},{"t":249.62,"v":0.65},{"t":249.66,"v":0.37},{"t":249.70,"v":0.53},{"t":249.74,"v":0.41},{"t":249.78,"v":0.28},{"t":249.82,"v":0.50},{"t":249.86,"v":0.45},{"t":249.90,"v":0.59},{"t":249.94,"v":0.39},{"t":249.98,"v":0.47},
{"t":250.02,"v":0.45},{"t":250.06,"v":0.34},{"t":250.10,"v":0.56},{"t":250.14,"v":0.41},{"t":250.18,"v":0.49},{"t":250.22,"v":0.37},{"t":250.26,"v":0.62},{"t":250.30,"v":0.43},{"t":250.34,"v":0.30},{"t":250.38,"v":0.52},{"t":250.42,"v":0.46},{"t":250.46,"v":0.39},{"t":250.50,"v":0.58},{"t":250.54,"v":0.44},{"t":250.58,"v":0.33},{"t":250.62,"v":0.55},{"t":250.66,"v":0.40},{"t":250.70,"v":0.48},{"t":250.74,"v":0.27},{"t":250.78,"v":0.51},{"t":250.82,"v":0.42},{"t":250.86,"v":0.60},{"t":250.90,"v":0.37},{"t":250.94,"v":0.54},{"t":250.98,"v":0.43},
{"t":251.02,"v":0.40},{"t":251.06,"v":0.57},{"t":251.10,"v":0.45},{"t":251.14,"v":0.33},{"t":251.18,"v":0.52},{"t":251.22,"v":0.47},{"t":251.26,"v":0.63},{"t":251.30,"v":0.38},{"t":251.34,"v":0.50},{"t":251.38,"v":0.43},{"t":251.42,"v":0.28},{"t":251.46,"v":0.55},{"t":251.50,"v":0.41},{"t":251.54,"v":0.49},{"t":251.58,"v":0.36},{"t":251.62,"v":0.60},{"t":251.66,"v":0.46},{"t":251.70,"v":0.53},{"t":251.74,"v":0.39},{"t":251.78,"v":0.67},{"t":251.82,"v":0.44},{"t":251.86,"v":0.32},{"t":251.90,"v":0.51},{"t":251.94,"v":0.42},{"t":251.98,"v":0.56},
{"t":252.02,"v":0.50},{"t":252.06,"v":0.38},{"t":252.10,"v":0.59},{"t":252.14,"v":0.44},{"t":252.18,"v":0.53},{"t":252.22,"v":0.30},{"t":252.26,"v":0.48},{"t":252.30,"v":0.62},{"t":252.34,"v":0.42},{"t":252.38,"v":0.55},{"t":252.42,"v":0.36},{"t":252.46,"v":0.47},{"t":252.50,"v":0.64},{"t":252.54,"v":0.43},{"t":252.58,"v":0.51},{"t":252.62,"v":0.39},{"t":252.66,"v":0.58},{"t":252.70,"v":0.45},{"t":252.74,"v":0.34},{"t":252.78,"v":0.56},{"t":252.82,"v":0.49},{"t":252.86,"v":0.41},{"t":252.90,"v":0.60},{"t":252.94,"v":0.46},{"t":252.98,"v":0.37},
{"t":253.02,"v":0.44},{"t":253.06,"v":0.56},{"t":253.10,"v":0.39},{"t":253.14,"v":0.61},{"t":253.18,"v":0.48},{"t":253.22,"v":0.52},{"t":253.26,"v":0.35},{"t":253.30,"v":0.58},{"t":253.34,"v":0.45},{"t":253.38,"v":0.50},{"t":253.42,"v":0.66},{"t":253.46,"v":0.42},{"t":253.50,"v":0.54},{"t":253.54,"v":0.38},{"t":253.58,"v":0.49},{"t":253.62,"v":0.63},{"t":253.66,"v":0.46},{"t":253.70,"v":0.31},{"t":253.74,"v":0.57},{"t":253.78,"v":0.43},{"t":253.82,"v":0.52},{"t":253.86,"v":0.40},{"t":253.90,"v":0.60},{"t":253.94,"v":0.47},{"t":253.98,"v":0.55},
{"t":254.02,"v":0.53},{"t":254.06,"v":0.41},{"t":254.10,"v":0.58},{"t":254.14,"v":0.46},{"t":254.18,"v":0.65},{"t":254.22,"v":0.39},{"t":254.26,"v":0.51},{"t":254.30,"v":0.44},{"t":254.34,"v":0.60},{"t":254.38,"v":0.36},{"t":254.42,"v":0.55},{"t":254.46,"v":0.49},{"t":254.50,"v":0.43},{"t":254.54,"v":0.67},{"t":254.58,"v":0.47},{"t":254.62,"v":0.52},{"t":254.66,"v":0.38},{"t":254.70,"v":0.57},{"t":254.74,"v":0.45},{"t":254.78,"v":0.62},{"t":254.82,"v":0.41},{"t":254.86,"v":0.50},{"t":254.90,"v":0.70},{"t":254.94,"v":0.46},{"t":254.98,"v":0.34},
{"t":255.02,"v":0.45},{"t":255.06,"v":0.58},{"t":255.10,"v":0.52},{"t":255.14,"v":0.38},{"t":255.18,"v":0.61},{"t":255.22,"v":0.47},{"t":255.26,"v":0.55},{"t":255.30,"v":0.42},{"t":255.34,"v":0.68},{"t":255.38,"v":0.50},{"t":255.42,"v":0.36},{"t":255.46,"v":0.57},{"t":255.50,"v":0.44},{"t":255.54,"v":0.53},{"t":255.58,"v":0.63},{"t":255.62,"v":0.40},{"t":255.66,"v":0.49},{"t":255.70,"v":0.59},{"t":255.74,"v":0.46},{"t":255.78,"v":0.72},{"t":255.82,"v":0.43},{"t":255.86,"v":0.54},{"t":255.90,"v":0.37},{"t":255.94,"v":0.60},{"t":255.98,"v":0.48},
{"t":256.02,"v":0.48},{"t":256.06,"v":0.61},{"t":256.10,"v":0.43},{"t":256.14,"v":0.56},{"t":256.18,"v":0.52},{"t":256.22,"v":0.37},{"t":256.26,"v":0.64},{"t":256.30,"v":0.47},{"t":256.34,"v":0.54},{"t":256.38,"v":0.40},{"t":256.42,"v":0.59},{"t":256.46,"v":0.50},{"t":256.50,"v":0.69},{"t":256.54,"v":0.44},{"t":256.58,"v":0.57},{"t":256.62,"v":0.33},{"t":256.66,"v":0.53},{"t":256.70,"v":0.62},{"t":256.74,"v":0.46},{"t":256.78,"v":0.51},{"t":256.82,"v":0.41},{"t":256.86,"v":0.66},{"t":256.90,"v":0.49},{"t":256.94,"v":0.55},{"t":256.98,"v":0.39},
{"t":257.02,"v":0.53},{"t":257.06,"v":0.42},{"t":257.10,"v":0.60},{"t":257.14,"v":0.48},{"t":257.18,"v":0.67},{"t":257.22,"v":0.45},{"t":257.26,"v":0.56},{"t":257.30,"v":0.38},{"t":257.34,"v":0.62},{"t":257.38,"v":0.51},{"t":257.42,"v":0.46},{"t":257.46,"v":0.71},{"t":257.50,"v":0.49},{"t":257.54,"v":0.58},{"t":257.58,"v":0.41},{"t":257.62,"v":0.55},{"t":257.66,"v":0.64},{"t":257.70,"v":0.47},{"t":257.74,"v":0.52},{"t":257.78,"v":0.35},{"t":257.82,"v":0.60},{"t":257.86,"v":0.50},{"t":257.90,"v":0.68},{"t":257.94,"v":0.43},{"t":257.98,"v":0.57},
{"t":258.02,"v":0.50},{"t":258.06,"v":0.62},{"t":258.10,"v":0.46},{"t":258.14,"v":0.57},{"t":258.18,"v":0.41},{"t":258.22,"v":0.66},{"t":258.26,"v":0.53},{"t":258.30,"v":0.47},{"t":258.34,"v":0.59},{"t":258.38,"v":0.38},{"t":258.42,"v":0.61},{"t":258.46,"v":0.52},{"t":258.50,"v":0.74},{"t":258.54,"v":0.48},{"t":258.58,"v":0.56},{"t":258.62,"v":0.43},{"t":258.66,"v":0.64},{"t":258.70,"v":0.51},{"t":258.74,"v":0.36},{"t":258.78,"v":0.58},{"t":258.82,"v":0.47},{"t":258.86,"v":0.69},{"t":258.90,"v":0.54},{"t":258.94,"v":0.42},{"t":258.98,"v":0.60},
{"t":259.02,"v":0.57},{"t":259.06,"v":0.46},{"t":259.10,"v":0.62},{"t":259.14,"v":0.50},{"t":259.18,"v":0.72},{"t":259.22,"v":0.43},{"t":259.26,"v":0.59},{"t":259.30,"v":0.54},{"t":259.34,"v":0.39},{"t":259.38,"v":0.66},{"t":259.42,"v":0.51},{"t":259.46,"v":0.58},{"t":259.50,"v":0.45},{"t":259.54,"v":0.63},{"t":259.58,"v":0.34},{"t":259.62,"v":0.56},{"t":259.66,"v":0.61},{"t":259.70,"v":0.48},{"t":259.74,"v":0.70},{"t":259.78,"v":0.52},{"t":259.82,"v":0.41},{"t":259.86,"v":0.60},{"t":259.90,"v":0.55},{"t":259.94,"v":0.47},{"t":259.98,"v":0.65},
{"t":260.02,"v":0.52},{"t":260.06,"v":0.63},{"t":260.10,"v":0.44},{"t":260.14,"v":0.59},{"t":260.18,"v":0.50},{"t":260.22,"v":0.69},{"t":260.26,"v":0.47},{"t":260.30,"v":0.57},{"t":260.34,"v":0.40},{"t":260.38,"v":0.64},{"t":260.42,"v":0.55},{"t":260.46,"v":0.76},{"t":260.50,"v":0.49},{"t":260.54,"v":0.60},{"t":260.58,"v":0.43},{"t":260.62,"v":0.58},{"t":260.66,"v":0.53},{"t":260.70,"v":0.67},{"t":260.74,"v":0.46},{"t":260.78,"v":0.36},{"t":260.82,"v":0.62},{"t":260.86,"v":0.51},{"t":260.90,"v":0.72},{"t":260.94,"v":0.48},{"t":260.98,"v":0.57},
{"t":261.02,"v":0.58},{"t":261.06,"v":0.47},{"t":261.10,"v":0.66},{"t":261.14,"v":0.53},{"t":261.18,"v":0.41},{"t":261.22,"v":0.62},{"t":261.26,"v":0.55},{"t":261.30,"v":0.73},{"t":261.34,"v":0.50},{"t":261.38,"v":0.59},{"t":261.42,"v":0.44},{"t":261.46,"v":0.64},{"t":261.50,"v":0.52},{"t":261.54,"v":0.38},{"t":261.58,"v":0.60},{"t":261.62,"v":0.56},{"t":261.66,"v":0.69},{"t":261.70,"v":0.47},{"t":261.74,"v":0.54},{"t":261.78,"v":0.42},{"t":261.82,"v":0.65},{"t":261.86,"v":0.51},{"t":261.90,"v":0.61},{"t":261.94,"v":0.33},{"t":261.98,"v":0.57},
{"t":262.02,"v":0.55},{"t":262.06,"v":0.45},{"t":262.10,"v":0.63},{"t":262.14,"v":0.51},{"t":262.18,"v":0.70},{"t":262.22,"v":0.48},{"t":262.26,"v":0.58},{"t":262.30,"v":0.38},{"t":262.34,"v":0.61},{"t":262.38,"v":0.53},{"t":262.42,"v":0.66},{"t":262.46,"v":0.43},{"t":262.50,"v":0.57},{"t":262.54,"v":0.50},{"t":262.58,"v":0.74},{"t":262.62,"v":0.46},{"t":262.66,"v":0.59},{"t":262.70,"v":0.41},{"t":262.74,"v":0.64},{"t":262.78,"v":0.54},{"t":262.82,"v":0.37},{"t":262.86,"v":0.60},{"t":262.90,"v":0.52},{"t":262.94,"v":0.68},{"t":262.98,"v":0.47},
{"t":263.02,"v":0.51},{"t":263.06,"v":0.64},{"t":263.10,"v":0.43},{"t":263.14,"v":0.59},{"t":263.18,"v":0.54},{"t":263.22,"v":0.71},{"t":263.26,"v":0.46},{"t":263.30,"v":0.57},{"t":263.34,"v":0.40},{"t":263.38,"v":0.62},{"t":263.42,"v":0.50},{"t":263.46,"v":0.67},{"t":263.50,"v":0.56},{"t":263.54,"v":0.35},{"t":263.58,"v":0.60},{"t":263.62,"v":0.48},{"t":263.66,"v":0.65},{"t":263.70,"v":0.53},{"t":263.74,"v":0.44},{"t":263.78,"v":0.69},{"t":263.82,"v":0.58},{"t":263.86,"v":0.39},{"t":263.90,"v":0.62},{"t":263.94,"v":0.52},{"t":263.98,"v":0.74},
{"t":264.02,"v":0.58},{"t":264.06,"v":0.46},{"t":264.10,"v":0.66},{"t":264.14,"v":0.53},{"t":264.18,"v":0.40},{"t":264.22,"v":0.63},{"t":264.26,"v":0.55},{"t":264.30,"v":0.72},{"t":264.34,"v":0.49},{"t":264.38,"v":0.60},{"t":264.42,"v":0.44},{"t":264.46,"v":0.68},{"t":264.50,"v":0.57},{"t":264.54,"v":0.51},{"t":264.58,"v":0.38},{"t":264.62,"v":0.64},{"t":264.66,"v":0.54},{"t":264.70,"v":0.47},{"t":264.74,"v":0.70},{"t":264.78,"v":0.59},{"t":264.82,"v":0.42},{"t":264.86,"v":0.61},{"t":264.90,"v":0.52},{"t":264.94,"v":0.66},{"t":264.98,"v":0.48},
{"t":265.02,"v":0.55},{"t":265.06,"v":0.43},{"t":265.10,"v":0.68},{"t":265.14,"v":0.50},{"t":265.18,"v":0.60},{"t":265.22,"v":0.37},{"t":265.26,"v":0.63},{"t":265.30,"v":0.54},{"t":265.34,"v":0.47}
]},
"mark":{"type":"point","filled":true,"opacity":1,"size":21,"shape":"circle","strokeWidth":0,"clip":true},
"encoding":{
"x":{"field":"t","type":"quantitative","scale":{"domain":[229.58,265.38],"nice":false,"zero":false},
"axis":{"values":[230,235,240,245,250,255,260,265],"grid":true,"gridColor":"#ffffff","gridWidth":1,"domain":false,"ticks":false,"labelFontSize":17,"labelColor":"#2a2a2a","labelPadding":8,"labelFont":"Open Sans","title":"Time [min]","titleFont":"Open Sans","titleFontSize":20,"titleFontWeight":"normal","titleColor":"#000","titlePadding":16,"titleX":482}},
"y":{"field":"v","type":"quantitative","scale":{"domain":[-1,1.39],"nice":false,"zero":false},
"axis":{"values":[-1,-0.5,0,0.5,1],"labelExpr":"datum.value < 0 ? '- ' + format(-datum.value, '') : format(datum.value, '')","grid":true,"gridColor":"#ffffff","gridWidth":1,"domain":false,"ticks":false,"labelFontSize":17,"labelColor":"#2a2a2a","labelPadding":7,"labelFont":"Open Sans","title":"‰","titleFont":"Open Sans","titleFontSize":20,"titleFontWeight":"normal","titleColor":"#000","titleX":-34,"titleY":212,"titleBaseline":"middle","titleAngle":-90}},
"color":{"datum":"δ 34","scale":{"range":["#19D3F3"]},"legend":{"orient":"none","legendX":952,"legendY":202,"title":null,"labelFontSize":17,"labelColor":"#222","labelFont":"Open Sans","labelOffset":4,"symbolSize":120,"symbolType":"circle","symbolStrokeWidth":0}}
}},
{"data":{"values":[{"t":244.17}]},"mark":{"type":"rule","color":"#000","strokeWidth":3.5},"encoding":{"x":{"field":"t","type":"quantitative"}}},
{"data":{"values":[{"x1":233.9,"x2":237.16,"y1":1.002,"y2":1.231,"xc":235.53,"yc":1.117,"label":"lab air"},{"x1":253.85,"x2":257.41,"y1":1.002,"y2":1.231,"xc":255.63,"yc":1.117,"label":"CIC_04"}]},
"layer":[
{"mark":{"type":"rect","fillOpacity":0,"stroke":"#6e6e6e","strokeWidth":1.5},"encoding":{"x":{"field":"x1","type":"quantitative"},"x2":{"field":"x2"},"y":{"field":"y1","type":"quantitative"},"y2":{"field":"y2"}}},
{"mark":{"type":"text","fontSize":23,"font":"Open Sans","color":"#000","align":"center","baseline":"middle"},"encoding":{"x":{"field":"xc","type":"quantitative"},"y":{"field":"yc","type":"quantitative"},"text":{"field":"label"}}}
]}
]
}
